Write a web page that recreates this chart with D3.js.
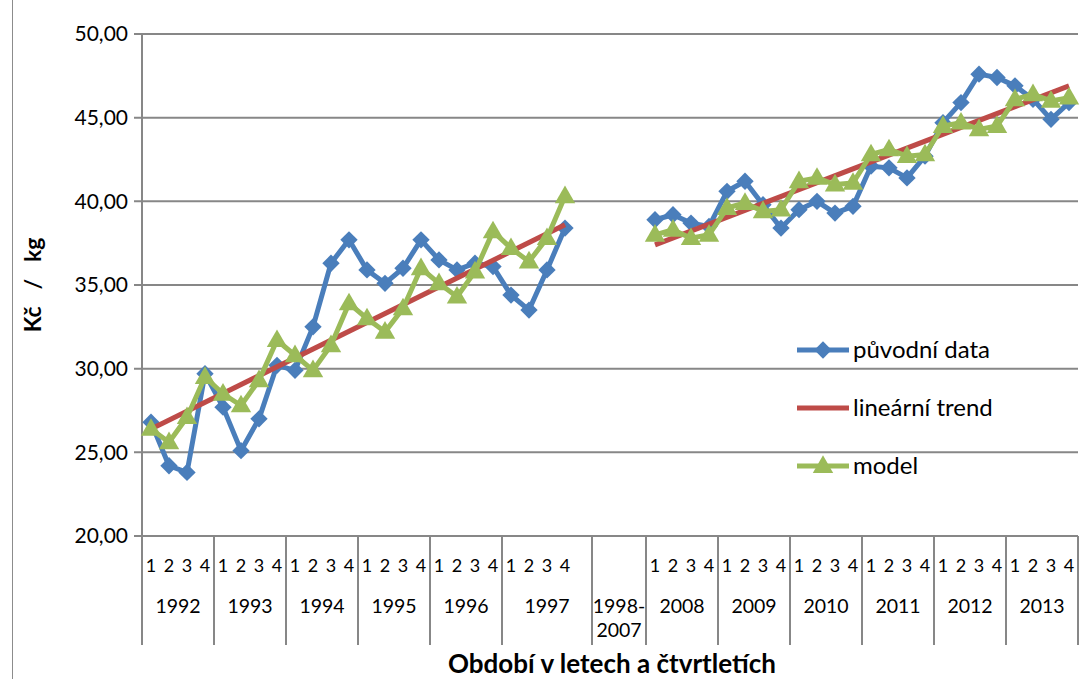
<!DOCTYPE html>
<html>
<head>
<meta charset="utf-8">
<script src="https://cdn.jsdelivr.net/npm/d3@7"></script>
<style>
  body { margin: 0; background: #fff; }
  svg { font-family: Lato, "Open Sans", sans-serif; }
</style>
</head>
<body>
<svg width="1081" height="679"></svg>
<script>
// rok -> ctvrtleti (1997 ma jeden prazdny slot, 1998-2007 tri prazdne)
var yearLabels = ["1992", "1993", "1994", "1995", "1996", "1997", "1998-2007",
                  "2008", "2009", "2010", "2011", "2012", "2013"]
var quarterSlots = [
  ["1","2","3","4"], ["1","2","3","4"], ["1","2","3","4"], ["1","2","3","4"],
  ["1","2","3","4"], ["1","2","3","4",""], ["","",""],
  ["1","2","3","4"], ["1","2","3","4"], ["1","2","3","4"], ["1","2","3","4"],
  ["1","2","3","4"], ["1","2","3","4"]
]
var yTicks = [20, 25, 30, 35, 40, 45, 50]

// puvodni data 1992-1997 a 2008-2013
var original9297 = [26.8, 24.2, 23.8, 29.7, 27.7, 25.1, 27.0, 30.2,
                    29.9, 32.5, 36.3, 37.7, 35.9, 35.1, 36.0, 37.7,
                    36.5, 35.9, 36.3, 36.1, 34.4, 33.5, 35.9, 38.4]
var original0813 = [38.9, 39.2, 38.7, 38.5, 40.6, 41.2, 39.8, 38.4,
                    39.5, 40.0, 39.3, 39.7, 42.1, 42.0, 41.4, 42.7,
                    44.7, 45.9, 47.6, 47.4, 46.9, 46.1, 44.9, 45.9]
// model
var model9297 = [26.4, 25.6, 27.1, 29.5, 28.5, 27.8, 29.3, 31.7,
                 30.8, 29.9, 31.4, 33.9, 33.0, 32.2, 33.6, 36.0,
                 35.1, 34.3, 35.8, 38.2, 37.2, 36.4, 37.8, 40.3]
var model0813 = [38.0, 38.3, 37.8, 38.0, 39.6, 39.9, 39.4, 39.5,
                 41.2, 41.4, 41.0, 41.1, 42.8, 43.1, 42.7, 42.8,
                 44.5, 44.7, 44.3, 44.5, 46.1, 46.4, 46.0, 46.2]
// linearni trend - pocatek a konec kazdeho useku
var trendEnds9297 = [26.4, 38.6]
var trendEnds0813 = [37.4, 46.9]

var svg = d3.select("svg")
var margin = {top: 34, left: 142, right: 3, bottom: 143}
var width = 1081, height = 679

// kategorie
var cats = []
yearLabels.forEach(function(y, yi) {
  quarterSlots[yi].forEach(function(q) { cats.push({year: y, q: q, yi: yi}) })
})
cats.forEach(function(c, i) { c.i = i })

var gap = cats.length - original9297.length - original0813.length
function joinSeries(a, b) {
  var out = a.slice()
  for (var k = 0; k < gap; k++) out.push(null)
  return out.concat(b)
}
var original = joinSeries(original9297, original0813)
var model = joinSeries(model9297, model0813)

var x = d3.scaleBand().domain(cats.map(function(c) { return c.i }))
  .range([margin.left, width - margin.right])
var y = d3.scaleLinear().domain([20, 50]).range([height - margin.bottom, margin.top])
var cx = function(i) { return x(i) + x.bandwidth() / 2 }

// ramecek grafu
svg.append("line").attr("x1", 12.5).attr("x2", 12.5).attr("y1", 0).attr("y2", height)
  .attr("stroke", "#8c8c8c").attr("stroke-width", 1)

// mrizka
svg.append("g").selectAll("line").data(yTicks).enter().append("line")
  .attr("x1", margin.left - 8).attr("x2", x.range()[1])
  .attr("y1", function(d) { return y(d) }).attr("y2", function(d) { return y(d) })
  .attr("stroke", "#878787").attr("stroke-width", 2)

var fmt = d3.format(".2f")
svg.append("g").selectAll("text").data(yTicks).enter().append("text")
  .attr("x", 128).attr("y", function(d) { return y(d) })
  .attr("dy", "0.35em").attr("text-anchor", "end")
  .attr("font-size", 21).attr("fill", "#000")
  .text(function(d) { return fmt(d).replace(".", ",") })

// osa y
svg.append("line").attr("x1", margin.left).attr("x2", margin.left)
  .attr("y1", margin.top).attr("y2", 645)
  .attr("stroke", "#878787").attr("stroke-width", 2)

// skupiny let
var groups = yearLabels.map(function(yl, yi) {
  var inG = cats.filter(function(c) { return c.yi === yi })
  return {label: yl, x0: x(inG[0].i), x1: x(inG[inG.length - 1].i) + x.bandwidth()}
})
svg.append("g").selectAll("line").data(groups).enter().append("line")
  .attr("x1", function(d) { return d.x1 }).attr("x2", function(d) { return d.x1 })
  .attr("y1", y(20)).attr("y2", 645)
  .attr("stroke", "#878787").attr("stroke-width", 2)

svg.append("g").selectAll("text").data(cats.filter(function(c) { return c.q !== "" }))
  .enter().append("text")
  .attr("x", function(d) { return cx(d.i) }).attr("y", 572)
  .attr("text-anchor", "middle").attr("font-size", 18).attr("fill", "#000")
  .text(function(d) { return d.q })

var yearText = svg.append("g").selectAll("text").data(groups).enter().append("text")
  .attr("x", function(d) { return (d.x0 + d.x1) / 2 }).attr("y", 613)
  .attr("text-anchor", "middle").attr("font-size", 19.5).attr("fill", "#000")
yearText.each(function(d) {
  var parts = d.label.indexOf("-") > 0 ? [d.label.split("-")[0] + "-", d.label.split("-")[1]] : [d.label]
  var t = d3.select(this)
  parts.forEach(function(p, k) {
    t.append("tspan").attr("x", (d.x0 + d.x1) / 2).attr("dy", k === 0 ? 0 : 24).text(p)
  })
})

// popisky os
svg.append("text").attr("transform", "translate(41," + ((y(20) + y(50)) / 2) + ") rotate(-90)")
  .attr("text-anchor", "middle").attr("font-size", 23).attr("font-weight", "bold")
  .style("white-space", "pre")
  .text("Kč   /   kg")
svg.append("text").attr("x", 612).attr("y", 673)
  .attr("text-anchor", "middle").attr("font-size", 26).attr("font-weight", "bold")
  .text("Období v letech a čtvrtletích")

var blue = "#4A7EBB", red = "#BE4B48", green = "#9BBB59"
var line = d3.line().defined(function(d) { return d !== null })
  .x(function(d, i) { return cx(i) }).y(function(d) { return y(d) })

// puvodni data
svg.append("path").datum(original).attr("d", line)
  .attr("fill", "none").attr("stroke", blue).attr("stroke-width", 5)
  .attr("stroke-linejoin", "round")
var diamond = d3.symbol().type(d3.symbolSquare).size(150)
svg.append("g").selectAll("path").data(original.map(function(v, i) { return {v: v, i: i} })
    .filter(function(d) { return d.v !== null }))
  .enter().append("path").attr("d", diamond)
  .attr("transform", function(d) { return "translate(" + cx(d.i) + "," + y(d.v) + ") rotate(45)" })
  .attr("fill", blue)

// trend
var firstSeg = [0, original9297.length - 1]
var secondSeg = [original9297.length + gap, cats.length - 1]
var trendSegs = [
  [{i: firstSeg[0], v: trendEnds9297[0]}, {i: firstSeg[1], v: trendEnds9297[1]}],
  [{i: secondSeg[0], v: trendEnds0813[0]}, {i: secondSeg[1], v: trendEnds0813[1]}]
]
var tLine = d3.line().x(function(d) { return cx(d.i) }).y(function(d) { return y(d.v) })
svg.append("g").selectAll("path").data(trendSegs).enter().append("path")
  .attr("d", tLine).attr("stroke", red).attr("stroke-width", 5).attr("fill", "none")

// model
svg.append("path").datum(model).attr("d", line)
  .attr("fill", "none").attr("stroke", green).attr("stroke-width", 5)
  .attr("stroke-linejoin", "round")
var tri = d3.symbol().type(d3.symbolTriangle).size(180)
svg.append("g").selectAll("path").data(model.map(function(v, i) { return {v: v, i: i} })
    .filter(function(d) { return d.v !== null }))
  .enter().append("path").attr("d", tri)
  .attr("transform", function(d) { return "translate(" + cx(d.i) + "," + (y(d.v) + 1) + ")" })
  .attr("fill", green)

// legenda
var legend = [
  {name: "původní data", color: blue, sym: "diamond"},
  {name: "lineární trend", color: red, sym: null},
  {name: "model", color: green, sym: "tri"}
]
var lg = svg.append("g").selectAll("g").data(legend).enter().append("g")
  .attr("transform", function(d, i) { return "translate(797," + (350 + i * 58) + ")" })
lg.append("line").attr("x1", 0).attr("x2", 52).attr("stroke", function(d) { return d.color })
  .attr("stroke-width", 5)
lg.filter(function(d) { return d.sym === "diamond" }).append("path").attr("d", diamond)
  .attr("transform", "translate(26,0) rotate(45)").attr("fill", blue)
lg.filter(function(d) { return d.sym === "tri" }).append("path").attr("d", tri)
  .attr("transform", "translate(26,1)").attr("fill", green)
lg.append("text").attr("x", 56).attr("dy", "0.35em").attr("font-size", 24)
  .text(function(d) { return d.name })
</script>
</body>
</html>
